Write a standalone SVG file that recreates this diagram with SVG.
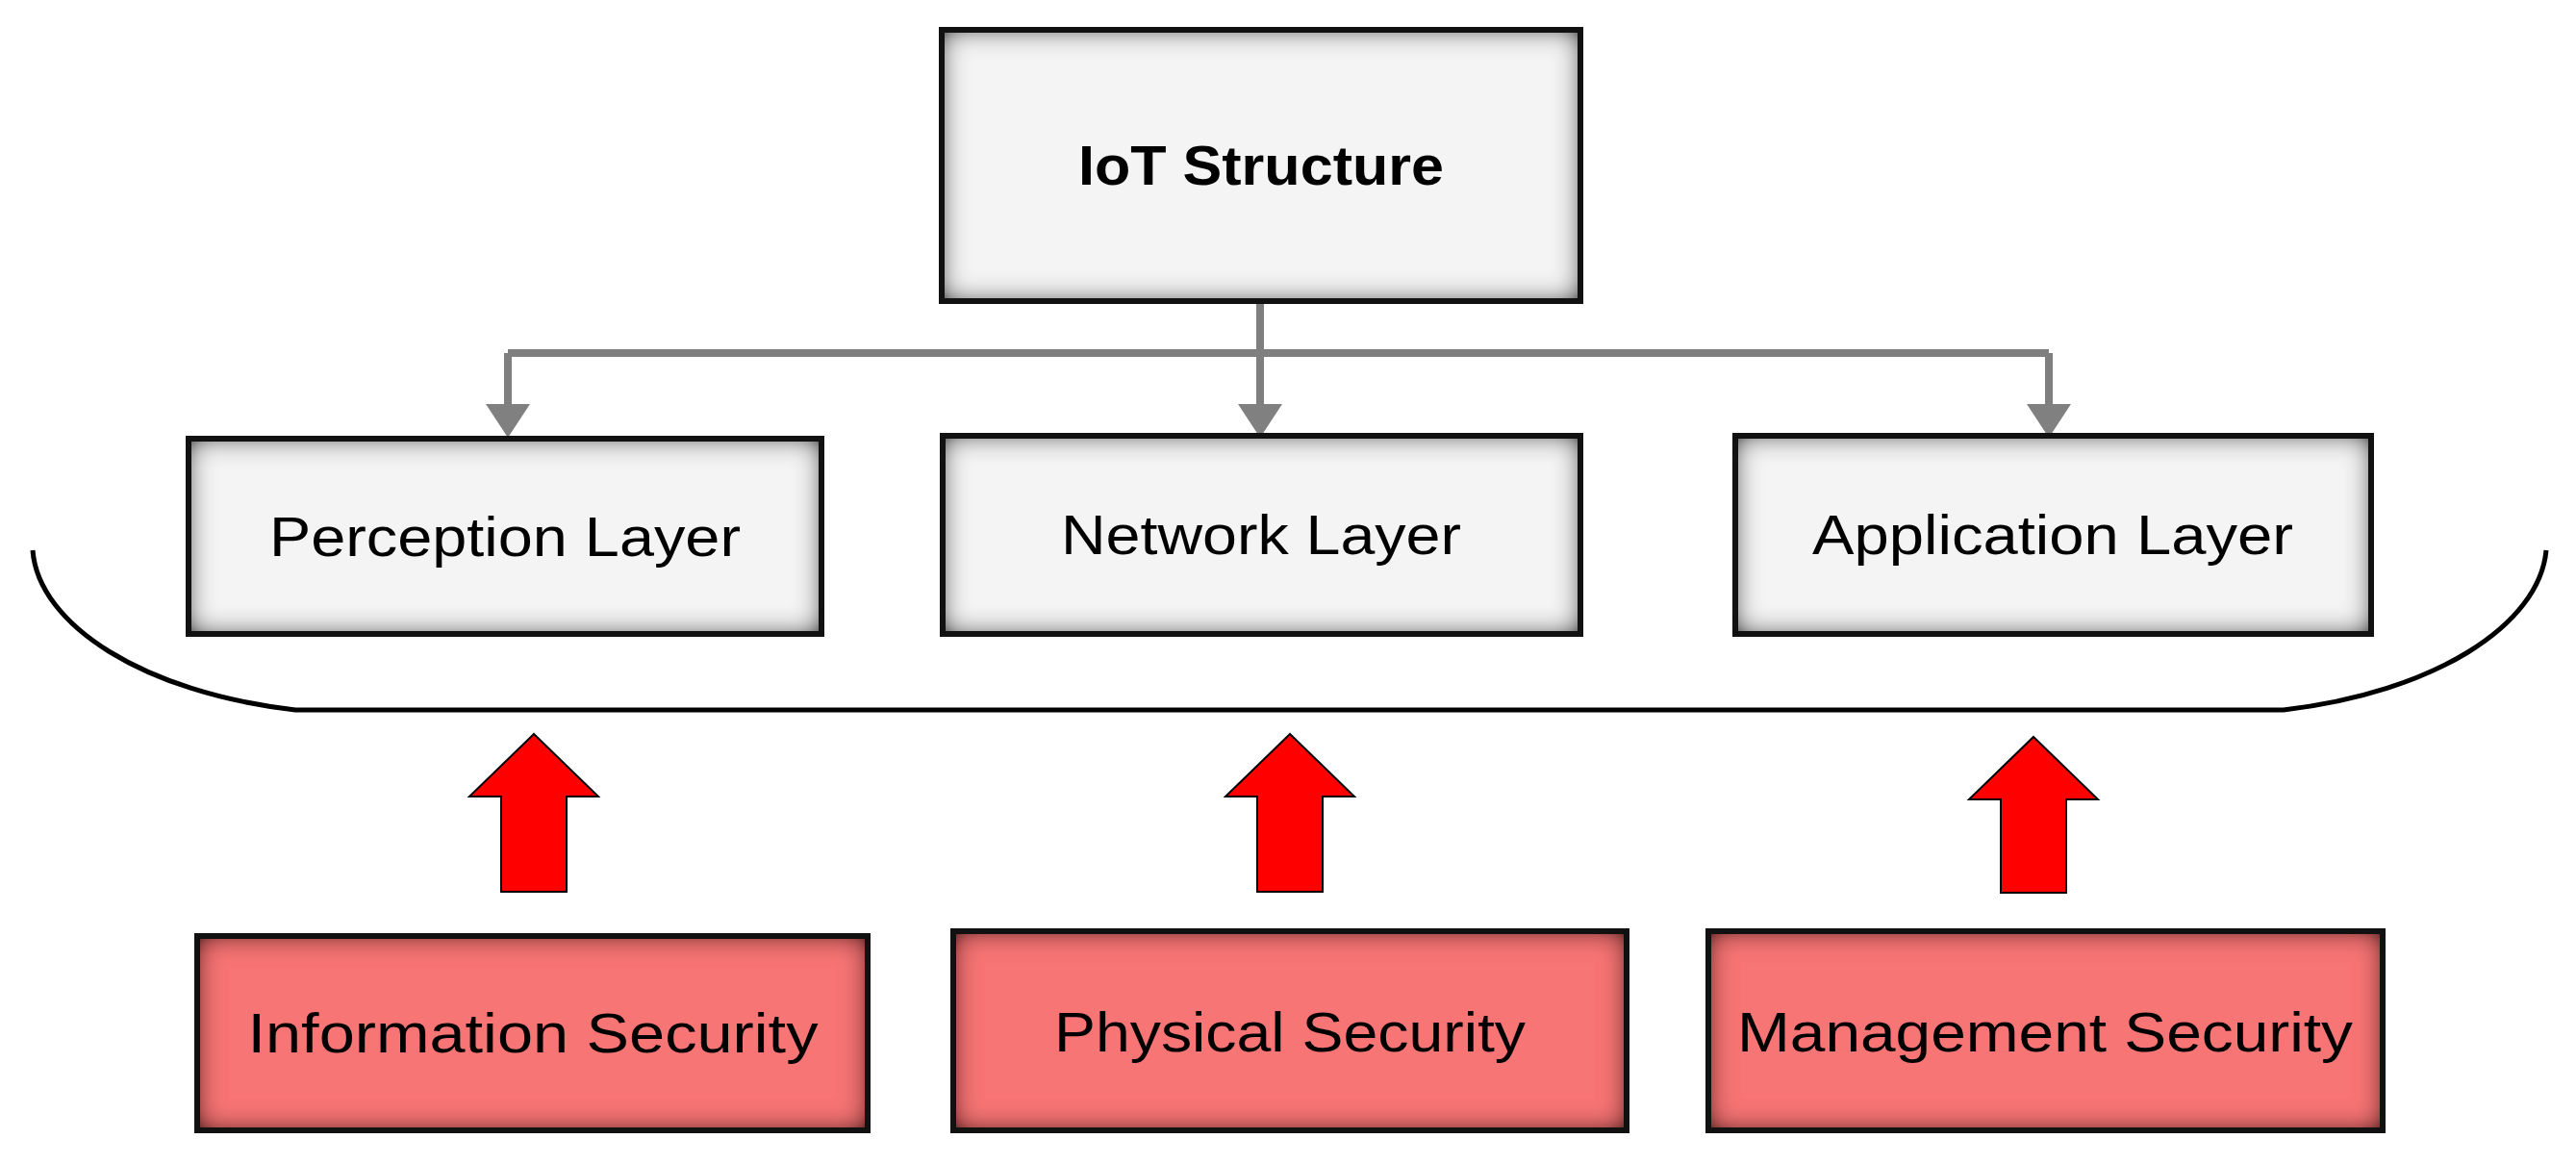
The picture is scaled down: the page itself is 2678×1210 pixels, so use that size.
<svg xmlns="http://www.w3.org/2000/svg" width="2678" height="1210" viewBox="0 0 2678 1210">
<defs>
<filter id="inner" x="-10%" y="-20%" width="120%" height="140%">
<feGaussianBlur in="SourceAlpha" stdDeviation="14" result="bl"/>
<feComposite in="SourceAlpha" in2="bl" operator="arithmetic" k2="1.5" k3="-1.5" result="edge"/>
<feFlood flood-color="#000" flood-opacity="0.85"/>
<feComposite in2="edge" operator="in" result="sh"/>
<feMerge><feMergeNode in="SourceGraphic"/><feMergeNode in="sh"/></feMerge>
</filter>
<style>
.g{fill:#f4f4f4;filter:url(#inner)}
.r{fill:#f87575;filter:url(#inner)}
.b{fill:none;stroke:#111;stroke-width:6}
.t{font-family:"Liberation Sans",Arial,sans-serif;font-size:58px;fill:#000;text-anchor:middle}
.c{fill:none;stroke:#7f7f7f;stroke-width:8}
.up{fill:#ff0000;stroke:#000;stroke-width:2}
</style>
</defs>
<rect width="2678" height="1210" fill="#fff"/>
<g id="connectors">
<path class="c" d="M1310,313 V367 M528,367 H2130"/>
<path class="c" d="M528,367 V422 M1310,313 V422 M2130,367 V422"/>
<path d="M505,420 L551,420 L528,455 Z M1287,420 L1333,420 L1310,455 Z M2107,420 L2153,420 L2130,455 Z" fill="#808080"/>
<path d="M34,572 C40,650 150,720 307,738 L2374,738 C2530,720 2640,650 2647,572" fill="none" stroke="#000" stroke-width="5"/>
<path class="up" d="M555,763 L622,828 L589,828 L589,927 L521,927 L521,828 L488,828 Z"/>
<path class="up" d="M1341,763 L1408,828 L1375,828 L1375,927 L1307,927 L1307,828 L1274,828 Z"/>
<path class="up" d="M2114,766 L2181,831 L2148,831 L2148,928 L2080,928 L2080,831 L2047,831 Z"/>
</g>
<g id="iot"><rect class="g" x="979" y="31" width="664" height="282"/><rect class="b" x="979" y="31" width="664" height="282"/><text class="t" x="1311" y="192" font-weight="bold" textLength="380" lengthAdjust="spacingAndGlyphs">IoT Structure</text></g>
<g id="perception"><rect class="g" x="196" y="456" width="658" height="203"/><rect class="b" x="196" y="456" width="658" height="203"/><text class="t" x="525" y="578" textLength="490" lengthAdjust="spacingAndGlyphs">Perception Layer</text></g>
<g id="network"><rect class="g" x="980" y="453" width="663" height="206"/><rect class="b" x="980" y="453" width="663" height="206"/><text class="t" x="1311" y="576" textLength="416" lengthAdjust="spacingAndGlyphs">Network Layer</text></g>
<g id="application"><rect class="g" x="1804" y="453" width="661" height="206"/><rect class="b" x="1804" y="453" width="661" height="206"/><text class="t" x="2134" y="576" textLength="500" lengthAdjust="spacingAndGlyphs">Application Layer</text></g>
<g id="information"><rect class="r" x="205" y="973" width="697" height="202"/><rect class="b" x="205" y="973" width="697" height="202"/><text class="t" x="554" y="1094" textLength="593" lengthAdjust="spacingAndGlyphs">Information Security</text></g>
<g id="physical"><rect class="r" x="991" y="968" width="700" height="207"/><rect class="b" x="991" y="968" width="700" height="207"/><text class="t" x="1341" y="1093" textLength="490" lengthAdjust="spacingAndGlyphs">Physical Security</text></g>
<g id="management"><rect class="r" x="1776" y="968" width="701" height="207"/><rect class="b" x="1776" y="968" width="701" height="207"/><text class="t" x="2126" y="1093" textLength="640" lengthAdjust="spacingAndGlyphs">Management Security</text></g>
</svg>
